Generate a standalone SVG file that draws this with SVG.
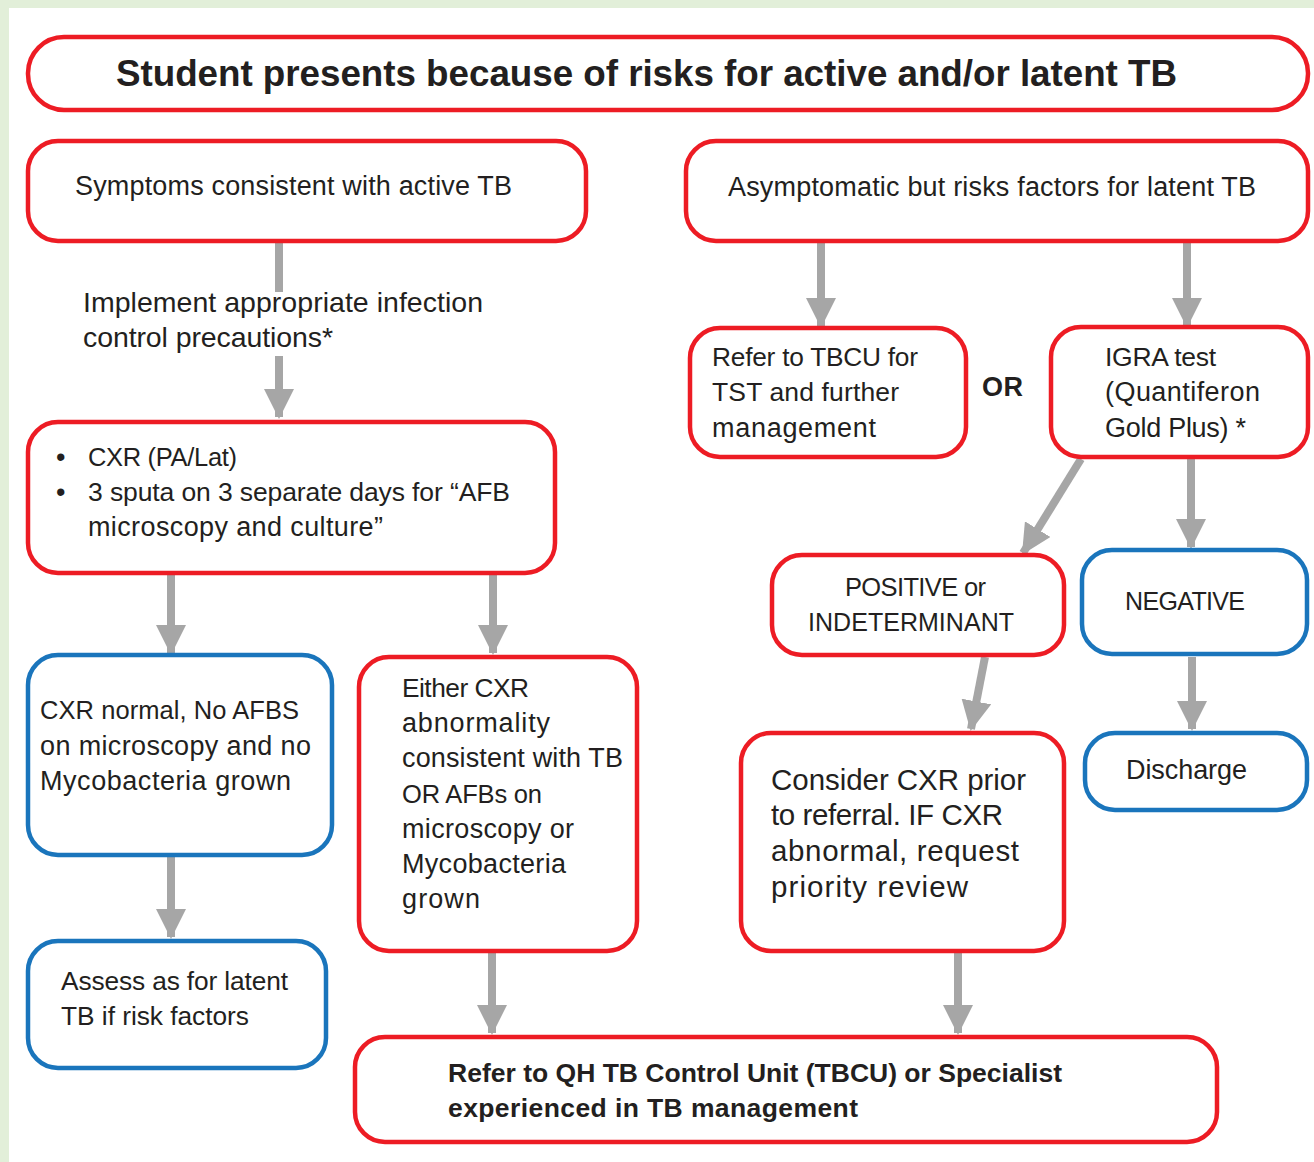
<svg xmlns="http://www.w3.org/2000/svg" width="1314" height="1162" viewBox="0 0 1314 1162">
<defs>
<style>
.r{fill:#fff;stroke:#ed1c24;stroke-width:4.5}
.b{fill:#fff;stroke:#1a75bc;stroke-width:4.5}
.t{font-family:"Liberation Sans",Arial,sans-serif;font-size:27px;fill:#231f20}
.s{font-size:25.5px}
.bd{font-weight:bold}
.c{stroke:#a6a6a6;stroke-width:8;fill:none}
.h{fill:#a6a6a6}
</style>
<marker id="ah" markerUnits="userSpaceOnUse" markerWidth="30" markerHeight="30" viewBox="0 0 30 30" refX="28" refY="15" orient="auto">
<path d="M0,0 L30,15 L0,30 Z" class="h"/>
</marker>
</defs>
<rect x="0" y="0" width="1314" height="1162" fill="#e2efd9"/>
<rect x="9" y="8" width="1305" height="1154" fill="#fff"/>

<g id="connectors">
<line class="c" x1="279" y1="243" x2="279" y2="292"/>
<line class="c" x1="279" y1="356" x2="279" y2="417" marker-end="url(#ah)"/>
<line class="c" x1="821" y1="243" x2="821" y2="326" marker-end="url(#ah)"/>
<line class="c" x1="1187" y1="243" x2="1187" y2="326" marker-end="url(#ah)"/>
<line class="c" x1="1081" y1="459" x2="1023" y2="553" marker-end="url(#ah)"/>
<line class="c" x1="1191" y1="459" x2="1191" y2="547" marker-end="url(#ah)"/>
<line class="c" x1="985" y1="657" x2="971" y2="729" marker-end="url(#ah)"/>
<line class="c" x1="1192" y1="657" x2="1192" y2="729" marker-end="url(#ah)"/>
<line class="c" x1="171" y1="575" x2="171" y2="653" marker-end="url(#ah)"/>
<line class="c" x1="493" y1="575" x2="493" y2="653" marker-end="url(#ah)"/>
<line class="c" x1="171" y1="857" x2="171" y2="937" marker-end="url(#ah)"/>
<line class="c" x1="492" y1="953" x2="492" y2="1033" marker-end="url(#ah)"/>
<line class="c" x1="958" y1="953" x2="958" y2="1033" marker-end="url(#ah)"/>
<text class="t" x="83" y="312" style="font-size:28.5px" textLength="400">Implement appropriate infection</text>
<text class="t" x="83" y="347" style="font-size:28.5px" textLength="250">control precautions*</text>
<text class="t bd" x="982" y="396" textLength="41">OR</text>
</g>

<g id="title">
<rect class="r" x="28" y="37" width="1280" height="73" rx="36"/>
<text class="t bd" x="116" y="86" style="font-size:36.8px" textLength="1061">Student presents because of risks for active and/or latent TB</text>
</g>

<g id="symptoms">
<rect class="r" x="28" y="141" width="558" height="100" rx="30"/>
<text class="t" x="75" y="195" textLength="437">Symptoms consistent with active TB</text>
</g>

<g id="asymptomatic">
<rect class="r" x="686" y="141" width="622" height="100" rx="30"/>
<text class="t" x="728" y="196" textLength="528">Asymptomatic but risks factors for latent TB</text>
</g>

<g id="refer-tbcu">
<rect class="r" x="690" y="328" width="276" height="129" rx="30"/>
<text class="t" x="712" y="366" style="font-size:26.3px" textLength="206">Refer to TBCU for</text>
<text class="t" x="712" y="401" style="font-size:26.5px" textLength="187">TST and further</text>
<text class="t" x="712" y="437" textLength="164">management</text>
</g>

<g id="igra">
<rect class="r" x="1051" y="327" width="257" height="130" rx="30"/>
<text class="t" x="1105" y="366" style="font-size:26.5px" textLength="111">IGRA test</text>
<text class="t" x="1105" y="401" textLength="155">(Quantiferon</text>
<text class="t" x="1105" y="437" textLength="141">Gold Plus) *</text>
</g>

<g id="cxr-sputa">
<rect class="r" x="28" y="422" width="527" height="151" rx="30"/>
<text class="t" x="56" y="466">•</text>
<text class="t s" x="88" y="466" textLength="149">CXR (PA/Lat)</text>
<text class="t" x="56" y="501">•</text>
<text class="t" x="88" y="501" style="font-size:26.5px" textLength="422">3 sputa on 3 separate days for “AFB</text>
<text class="t" x="88" y="536" textLength="295">microscopy and culture”</text>
</g>

<g id="positive">
<rect class="r" x="772" y="555" width="292" height="100" rx="30"/>
<text class="t s" x="845" y="596" textLength="141">POSITIVE or</text>
<text class="t" x="808" y="631" style="font-size:25px" textLength="206">INDETERMINANT</text>
</g>

<g id="negative">
<rect class="b" x="1082" y="550" width="225" height="104" rx="30"/>
<text class="t" x="1125" y="610" style="font-size:25px" textLength="120">NEGATIVE</text>
</g>

<g id="cxr-normal">
<rect class="b" x="28" y="655" width="304" height="200" rx="30"/>
<text class="t s" x="40" y="719" textLength="259">CXR normal, No AFBS</text>
<text class="t" x="40" y="755" textLength="271">on microscopy and no</text>
<text class="t" x="40" y="790" textLength="251">Mycobacteria grown</text>
</g>

<g id="either-cxr">
<rect class="r" x="359" y="657" width="278" height="294" rx="30"/>
<text class="t" x="402" y="697" style="font-size:26.3px" textLength="127">Either CXR</text>
<text class="t" x="402" y="732" textLength="148">abnormality</text>
<text class="t" x="402" y="767" textLength="221">consistent with TB</text>
<text class="t s" x="402" y="803" textLength="140">OR AFBs on</text>
<text class="t" x="402" y="838" textLength="172">microscopy or</text>
<text class="t" x="402" y="873" textLength="164">Mycobacteria</text>
<text class="t" x="402" y="908" textLength="78">grown</text>
</g>

<g id="consider-cxr">
<rect class="r" x="741" y="733" width="323" height="218" rx="30"/>
<text class="t" x="771" y="790" style="font-size:29.5px" textLength="255">Consider CXR prior</text>
<text class="t" x="771" y="825" style="font-size:29.5px" textLength="232">to referral. IF CXR</text>
<text class="t" x="771" y="861" style="font-size:29.5px" textLength="248">abnormal, request</text>
<text class="t" x="771" y="897" style="font-size:29.5px" textLength="197">priority review</text>
</g>

<g id="discharge">
<rect class="b" x="1085" y="733" width="222" height="77" rx="30"/>
<text class="t" x="1126" y="779" textLength="121">Discharge</text>
</g>

<g id="assess">
<rect class="b" x="28" y="941" width="298" height="127" rx="30"/>
<text class="t" x="61" y="990" style="font-size:26.3px" textLength="227">Assess as for latent</text>
<text class="t" x="61" y="1025" style="font-size:26.3px" textLength="188">TB if risk factors</text>
</g>

<g id="refer-qh">
<rect class="r" x="355" y="1037" width="862" height="105" rx="30"/>
<text class="t bd" x="448" y="1082" style="font-size:26.5px" textLength="614">Refer to QH TB Control Unit (TBCU) or Specialist</text>
<text class="t bd" x="448" y="1117" style="font-size:26.5px" textLength="410">experienced in TB management</text>
</g>
</svg>
